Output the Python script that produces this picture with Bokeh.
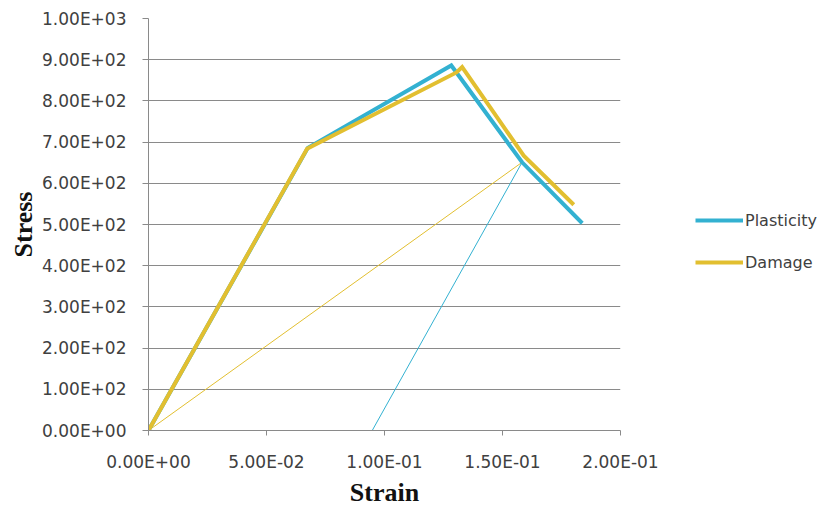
from bokeh.plotting import figure
from bokeh.models import Range1d, FixedTicker, Legend, LegendItem
from bokeh.layouts import row
from bokeh.embed import file_html
from bokeh.resources import INLINE

# ---- data ----
strain_plasticity = [0.0, 0.0675, 0.1283, 0.1583, 0.1838]
stress_plasticity = [0.0, 686, 886, 651, 503]

strain_damage = [0.0, 0.0672, 0.1305, 0.1329, 0.1442, 0.1590, 0.1802]
stress_damage = [0.0, 684, 869, 882, 789, 667, 548]

# thin unloading lines
unload_damage_strain = [0.0, 0.1583]
unload_damage_stress = [0.0, 651]
unload_plasticity_strain = [0.1583, 0.0948]
unload_plasticity_stress = [651, 0.0]

series_names = ["Plasticity", "Damage"]

x_ticks = [0.0, 0.05, 0.10, 0.15, 0.20]
x_tick_labels = ["0.00E+00", "5.00E-02", "1.00E-01", "1.50E-01", "2.00E-01"]
y_ticks = [0, 100, 200, 300, 400, 500, 600, 700, 800, 900, 1000]
y_tick_labels = ["0.00E+00", "1.00E+02", "2.00E+02", "3.00E+02", "4.00E+02",
                 "5.00E+02", "6.00E+02", "7.00E+02", "8.00E+02", "9.00E+02",
                 "1.00E+03"]

BLUE = "#33B1D1"
GOLD = "#E2BF30"
GRID = "#8A8A8A"
LABEL = "#404040"

p = figure(frame_width=472, frame_height=412,
           min_border_left=148, min_border_right=60,
           min_border_top=18, min_border_bottom=76,
           x_range=Range1d(0, 0.2), y_range=Range1d(0, 1000),
           output_backend="svg", toolbar_location=None,
           background_fill_color="white", border_fill_color="white")
p.outline_line_color = None

# thin unloading lines
p.line(unload_damage_strain, unload_damage_stress, line_color=GOLD, line_width=1)
p.line(unload_plasticity_strain, unload_plasticity_stress, line_color=BLUE, line_width=1)

p.line(strain_plasticity, stress_plasticity, line_color=BLUE,
       line_width=4, line_join="miter")
p.line(strain_damage, stress_damage, line_color=GOLD,
       line_width=4, line_join="miter")

# axes
p.xaxis.ticker = FixedTicker(ticks=x_ticks)
p.yaxis.ticker = FixedTicker(ticks=y_ticks)
p.xaxis.major_label_overrides = {t: l for t, l in zip(x_ticks, x_tick_labels)}
p.yaxis.major_label_overrides = {t: l for t, l in zip(y_ticks, y_tick_labels)}

for ax in (p.xaxis, p.yaxis):
    ax.axis_line_color = GRID
    ax.axis_line_width = 1
    ax.major_tick_line_color = GRID
    ax.major_tick_in = 0
    ax.minor_tick_line_color = None
    ax.major_label_text_font = "DejaVu Sans"
    ax.major_label_text_font_size = "17px"
    ax.major_label_text_color = LABEL
    ax.axis_label_text_font = "Liberation Serif"
    ax.axis_label_text_font_style = "bold"
    ax.axis_label_text_font_size = "26px"
    ax.axis_label_text_color = "#111111"

p.xaxis.major_tick_out = 5
p.yaxis.major_tick_out = 6
p.xaxis.major_label_standoff = 16
p.yaxis.major_label_standoff = 16
p.xaxis.axis_label = "Strain"
p.yaxis.axis_label = "Stress"
p.xaxis.axis_label_standoff = 3
p.yaxis.axis_label_standoff = 1

p.xgrid.grid_line_color = None
p.ygrid.grid_line_color = GRID
p.ygrid.grid_line_width = 1

# legend panel on the right (key renderers sit outside its visible range)
lg = figure(width=149, height=506, min_border=0,
            x_range=Range1d(0, 1), y_range=Range1d(0, 1),
            x_axis_type=None, y_axis_type=None,
            output_backend="svg", toolbar_location=None,
            background_fill_color="white", border_fill_color="white")
lg.outline_line_color = None
lg.grid.visible = False
k_plast = lg.line([5, 6], [5, 6], line_color=BLUE, line_width=4)
k_dam = lg.line([5, 6], [5, 6], line_color=GOLD, line_width=4)

legend = Legend(items=[LegendItem(label=series_names[0], renderers=[k_plast]),
                       LegendItem(label=series_names[1], renderers=[k_dam])],
                location=(15, 155))
legend.padding = 0
legend.margin = 0
legend.spacing = 22
legend.glyph_width = 48
legend.glyph_height = 20
legend.label_standoff = 2
legend.label_text_font = "DejaVu Sans"
legend.label_text_font_size = "16px"
legend.label_text_color = LABEL
legend.border_line_color = None
legend.background_fill_alpha = 0
lg.add_layout(legend)

layout = row(p, lg, spacing=0)
open("out.html", "w").write(file_html(layout, INLINE))
